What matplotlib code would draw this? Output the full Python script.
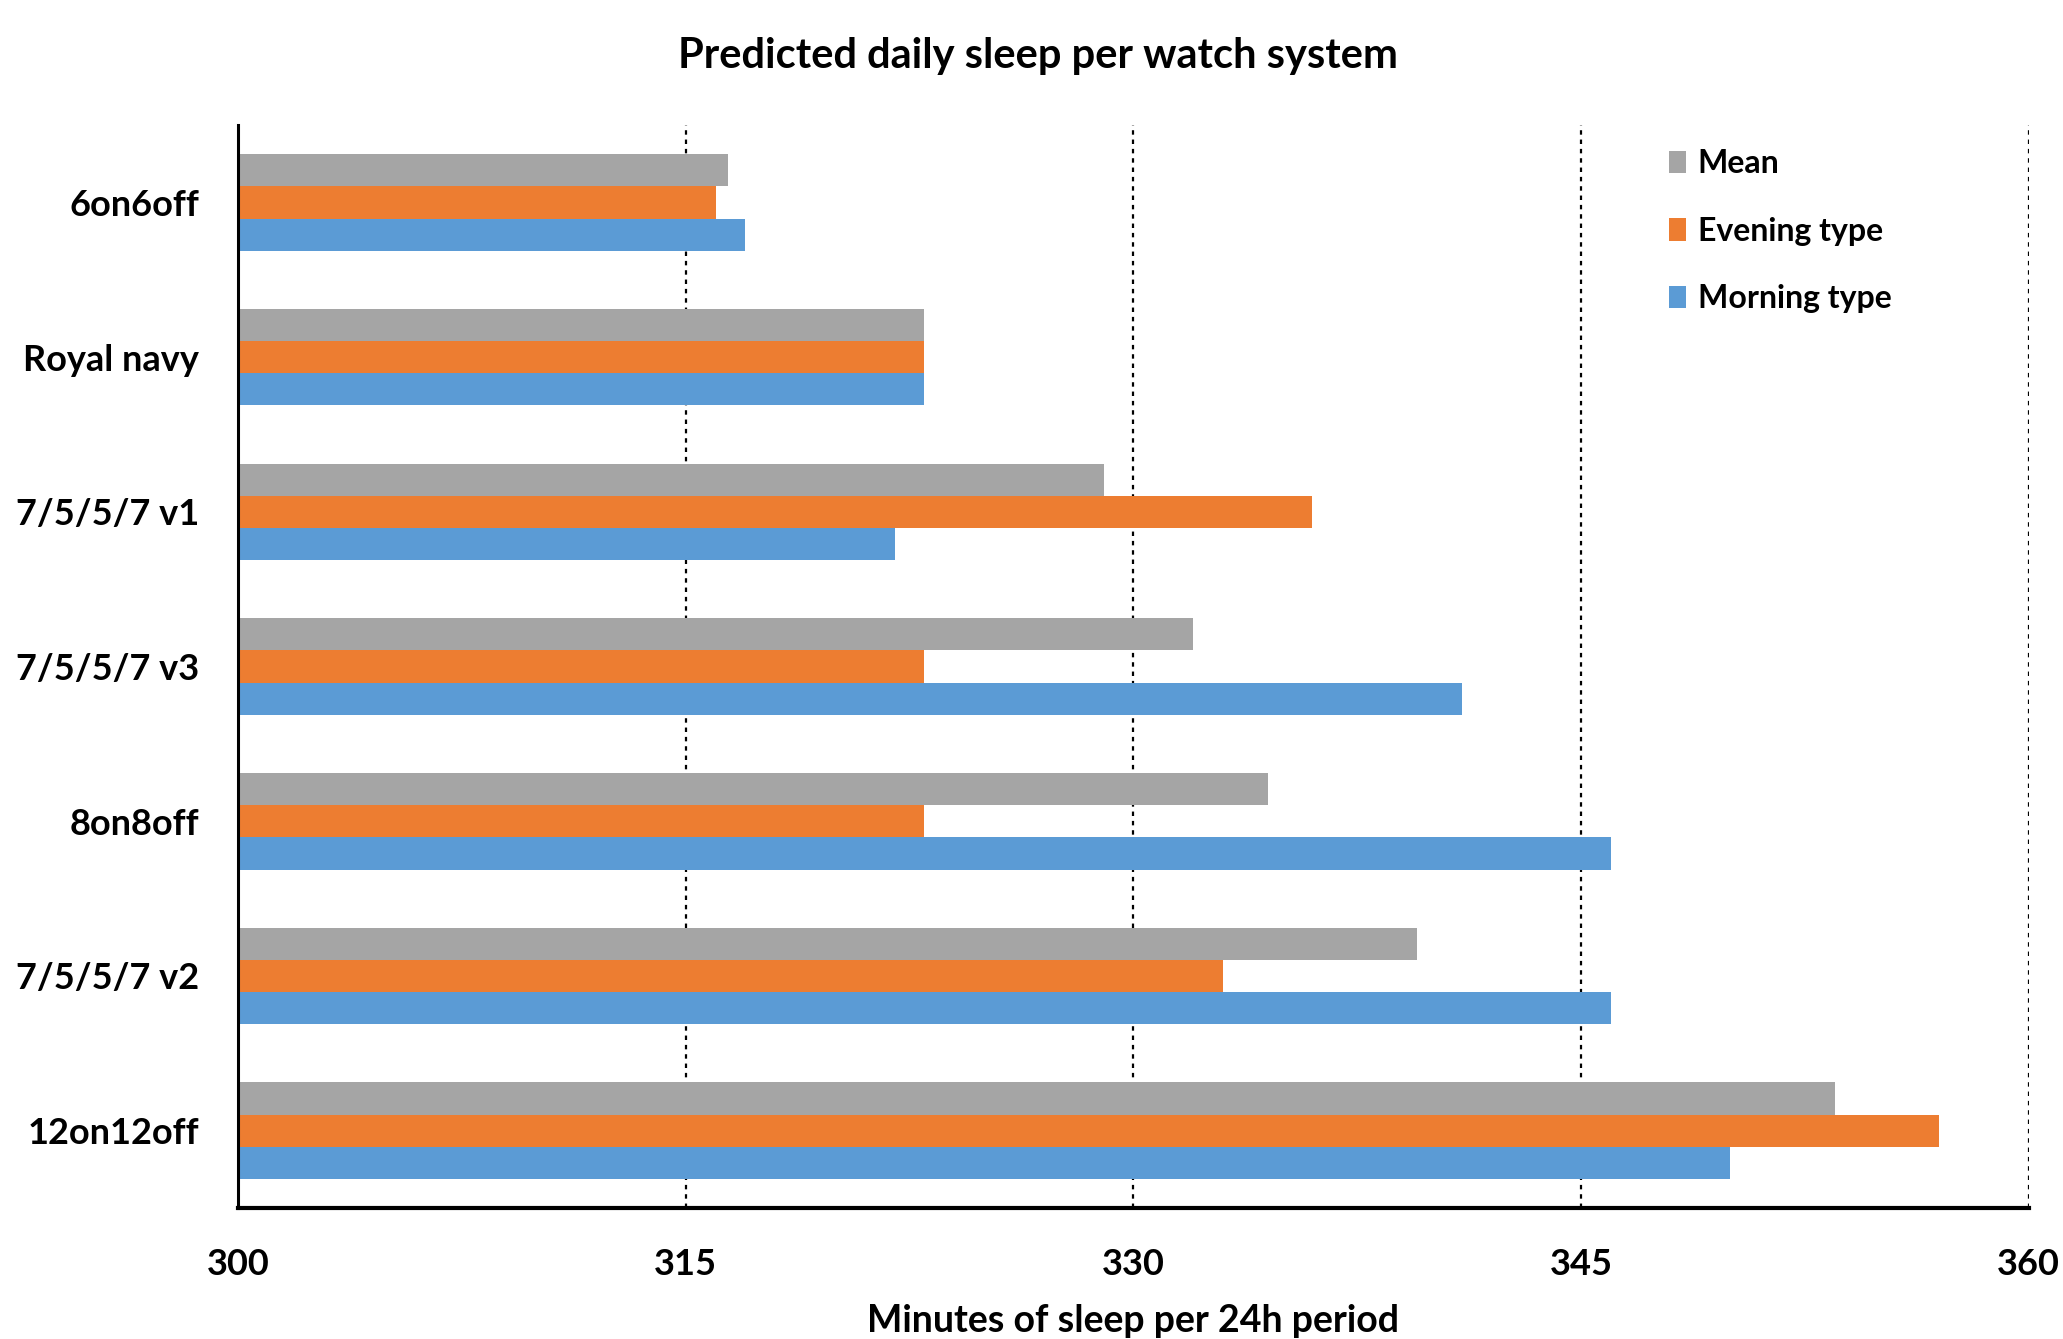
import matplotlib
matplotlib.use("Agg")
import matplotlib.pyplot as plt
import numpy as np

categories = ["6on6off", "Royal navy", "7/5/5/7 v1", "7/5/5/7 v3", "8on8off", "7/5/5/7 v2", "12on12off"]
mean_vals = [316.4, 323.0, 329.0, 332.0, 334.5, 339.5, 353.5]
evening_vals = [316.0, 323.0, 336.0, 323.0, 323.0, 333.0, 357.0]
morning_vals = [317.0, 323.0, 322.0, 341.0, 346.0, 346.0, 350.0]
series_names = ["Mean", "Evening type", "Morning type"]
colors = ["#A5A5A5", "#ED7D31", "#5B9BD5"]
xticks = [300, 315, 330, 345, 360]

plt.rcParams['font.family'] = ['Lato', 'DejaVu Sans']
plt.rcParams['font.weight'] = 'bold'

fig = plt.figure(figsize=(20.63, 13.39), dpi=100)
ax = fig.add_axes([0.1154, 0.0978, 0.868, 0.8088])

y = np.arange(len(categories))
h = 0.208
base = 300
for k, (vals, name, c) in enumerate(zip([mean_vals, evening_vals, morning_vals], series_names, colors)):
    ax.barh(y + (k - 1) * h, np.array(vals) - base, left=base, height=h, color=c, label=name, zorder=3)

ax.set_xlim(300, 360)
ax.set_ylim(len(categories) - 0.5, -0.5)
ax.set_xticks(xticks)
ax.set_xticklabels([str(t) for t in xticks], fontsize=26, fontweight='bold')
ax.set_yticks(y)
ax.set_yticklabels(categories, fontsize=26, fontweight='bold')
ax.tick_params(axis='both', length=0)
ax.tick_params(axis='x', pad=29)
ax.tick_params(axis='y', pad=28)

for t in xticks[1:]:
    ax.axvline(t, color='black', linestyle=(0, (2, 2.2)), linewidth=1.6, zorder=1)

for s in ['top', 'right']:
    ax.spines[s].set_visible(False)
ax.spines['left'].set_linewidth(2.2)
ax.spines['bottom'].set_linewidth(3)
ax.spines['left'].set_zorder(4)

ax.set_xlabel("Minutes of sleep per 24h period", fontsize=27, fontweight='bold', labelpad=16)
fig.text(0.503, 0.958, "Predicted daily sleep per watch system", ha='center', va='center',
         fontsize=30, fontweight='bold')

leg = ax.legend(loc='upper left', bbox_to_anchor=(0.783, 1.004), frameon=False,
                handlelength=0.55, handleheight=0.7, handletextpad=0.35,
                labelspacing=1.2, prop={'weight': 'bold', 'size': 23})

fig.savefig("out.png", dpi=100)
